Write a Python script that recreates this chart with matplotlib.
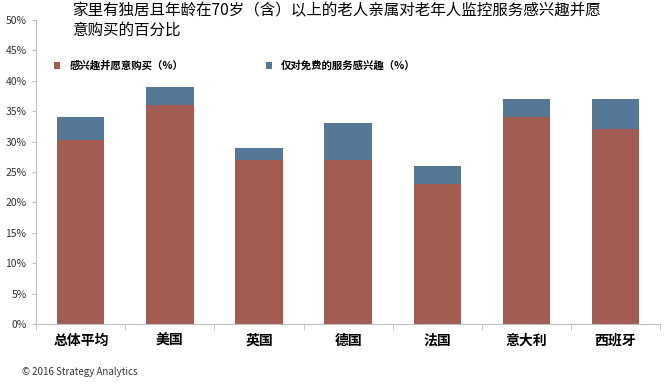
import matplotlib
matplotlib.use('Agg')
import matplotlib.pyplot as plt
import numpy as np

plt.rcParams['font.family'] = ['Noto Sans CJK SC', 'DejaVu Sans']

# 数据
categories = ['总体平均', '美国', '英国', '德国', '法国', '意大利', '西班牙']
buy = [30.3, 36, 27, 27, 23, 34, 32]
free_only = [3.7, 3, 2, 6, 3, 3, 5]
labels = ['感兴趣并愿意购买（%）', '仅对免费的服务感兴趣（%）']
colors = ['#A35C52', '#557897']

fig = plt.figure(figsize=(6.72, 3.83), dpi=100)
ax = fig.add_axes([0.054, 0.154, 0.928, 0.794])

x = np.arange(len(categories))
ax.bar(x, buy, width=0.53, color=colors[0], label=labels[0])
ax.bar(x, free_only, width=0.53, bottom=buy, color=colors[1], label=labels[1])

ax.set_xlim(-0.5, len(categories) - 0.5)
ax.set_ylim(0, 50)
ax.set_yticks(range(0, 51, 5))
ax.set_yticklabels([f'{v}%' for v in range(0, 51, 5)], fontsize=7.5, color='#333333')
ax.set_xticks(x)
ax.set_xticklabels(categories, fontsize=10, fontweight='bold')
ax.tick_params(axis='x', length=0, pad=7)
ax.set_xticks(np.arange(-0.5, len(categories)), minor=True)
ax.tick_params(axis='x', which='minor', length=4, color='#BFBFBF')
ax.tick_params(axis='y', length=3, color='#BFBFBF', pad=4)

for s in ['top', 'right']:
    ax.spines[s].set_visible(False)
for s in ['left', 'bottom']:
    ax.spines[s].set_color('#BFBFBF')

ax.legend(loc='center left', bbox_to_anchor=(0.028, 0.849), ncol=2, frameon=False,
          prop={'size': 7.5, 'weight': 'bold'}, handlelength=0.6, handleheight=0.6,
          handletextpad=0.9, columnspacing=7.9, borderpad=0, borderaxespad=0)

fig.text(0.107, 0.995, '家里有独居且年龄在70岁（含）以上的老人亲属对老年人监控服务感兴趣并愿\n意购买的百分比',
         fontsize=11.2, va='top', ha='left', linespacing=1.25)
fig.text(0.032, 0.02, '© 2016 Strategy Analytics', fontsize=7, color='#333333')

plt.savefig('out.png', dpi=100)
